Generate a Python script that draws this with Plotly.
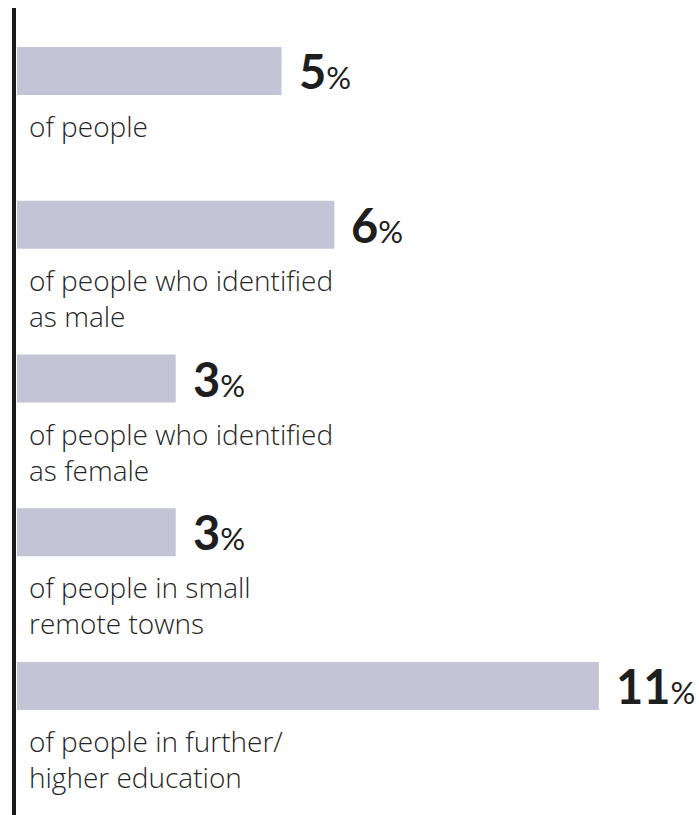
import plotly.graph_objects as go

categories = [
    "of people",
    "of people who identified<br>as male",
    "of people who identified<br>as female",
    "of people in small<br>remote towns",
    "of people in further/<br>higher education",
]
values = [5, 6, 3, 3, 11]
value_labels = ["5", "6", "3", "3", "11"]

BAR_COLOR = "#c5c4d6"
TEXT_COLOR = "#1e1e1e"

W, H = 699, 815
L = 17
plot_w = W - L
px_per_unit = 52.9
step = 153.75
first_center = 71

fig = go.Figure()
fig.add_trace(go.Bar(
    x=values,
    y=list(range(len(values))),
    orientation="h",
    marker=dict(color=BAR_COLOR, line=dict(width=0)),
    width=48 / step,
    hoverinfo="skip",
))

for i, (v, lab, cat) in enumerate(zip(values, value_labels, categories)):
    fig.add_annotation(
        x=v, y=i, xref="x", yref="y",
        text=f"<b>{lab}</b><span style='font-size:31px'>%</span>",
        showarrow=False, xanchor="left", yanchor="middle",
        xshift=15, yshift=0,
        font=dict(family="Lato", size=47, color=TEXT_COLOR),
    )
    fig.add_annotation(
        x=0, y=i, xref="x", yref="y",
        text=cat, align="left",
        showarrow=False, xanchor="left", yanchor="top",
        xshift=10, yshift=-34,
        font=dict(family="Open Sans", size=28, color="#262626", weight=300),
    )

fig.add_shape(
    type="line", xref="paper", yref="paper",
    x0=-3 / plot_w, x1=-3 / plot_w, y0=0, y1=1 - 8 / H,
    line=dict(color="#1a1a1a", width=4),
)

fig.update_layout(
    width=W, height=H,
    margin=dict(l=L, r=0, t=0, b=0),
    plot_bgcolor="white", paper_bgcolor="white",
    showlegend=False,
    xaxis=dict(range=[0, plot_w / px_per_unit], visible=False, fixedrange=True),
    yaxis=dict(range=[(H - first_center) / step, -first_center / step],
               visible=False, fixedrange=True),
)

fig.write_html("out.html")
